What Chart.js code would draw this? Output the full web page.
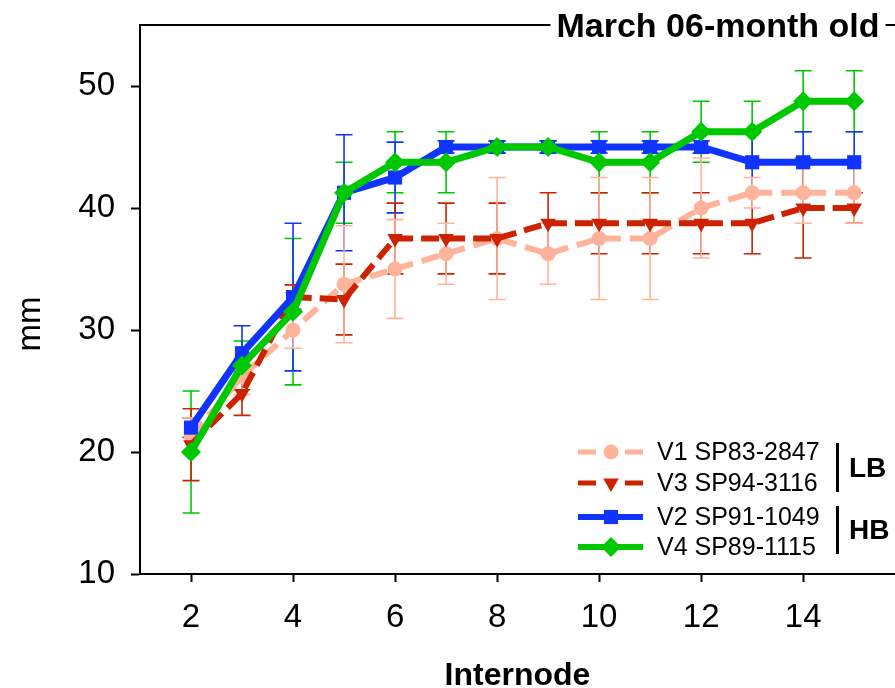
<!DOCTYPE html>
<html>
<head>
<meta charset="utf-8">
<title>Internode diameter - March 06-month old</title>
<script src="https://cdn.jsdelivr.net/npm/chart.js@4.4.1/dist/chart.umd.min.js"></script>
<style>
  body { margin: 0; background: #fff; }
  #wrap { width: 895px; height: 688px; }
</style>
</head>
<body>
<div id="wrap"><canvas id="line-chart" width="895" height="688"></canvas></div>
<script>
// Data
// ------------------------------
var internodes = [2, 3, 4, 5, 6, 7, 8, 9, 10, 11, 12, 13, 14, 15];
var xTicks = [2, 4, 6, 8, 10, 12, 14];
var yTicks = [10, 20, 30, 40, 50];

var labels = ["V1 SP83-2847", "V3 SP94-3116", "V2 SP91-1049", "V4 SP89-1115"];

var v1Data = [21.3, 26.2, 30.0, 33.75, 35.0, 36.25, 37.5, 36.25, 37.5, 37.5, 40.0, 41.25, 41.25, 41.25];
var v1Err  = [1.5, 1.5, 1.5, 4.8, 4.05, 2.5, 5.0, 2.5, 5.0, 5.0, 4.1, 1.25, 2.5, 2.5];

var v3Data = [20.6, 24.8, 32.7, 32.5, 37.5, 37.5, 37.5, 38.75, 38.75, 38.75, 38.75, 38.75, 40.0, 40.0];
var v3Err  = [2.95, 1.8, 1.0, 2.9, 2.9, 2.9, 2.9, 2.5, 2.5, 2.5, 2.5, 2.5, 4.1, 1.25];

var v2Data = [22.0, 28.1, 32.7, 41.25, 42.5, 45.0, 45.0, 45.0, 45.0, 45.0, 45.0, 43.75, 43.75, 43.75];
var v2Err  = [0.8, 2.25, 6.05, 4.75, 2.9, 0.5, 0.5, 0.5, 0.5, 0.5, 0.5, 2.5, 2.5, 2.5];

var v4Data = [20.0, 27.1, 31.5, 41.25, 43.75, 43.75, 45.0, 45.0, 43.75, 43.75, 46.25, 46.25, 48.75, 48.75];
var v4Err  = [5.0, 2.0, 6.0, 2.5, 2.5, 2.5, 0.5, 0.5, 2.5, 2.5, 2.5, 2.5, 2.5, 2.5];

var FONT = "'Liberation Sans', Arial, Helvetica, sans-serif";

function pts(values) {
    var out = [];
    for (var i = 0; i < internodes.length; i++) {
        out.push({ x: internodes[i], y: values[i] });
    }
    return out;
}

// no extra room for the edge tick labels, the frame fills the canvas
function noPadding(scale) {
    scale.paddingTop = 0;
    scale.paddingBottom = 0;
    scale.paddingLeft = 0;
    scale.paddingRight = 0;
}

// Error bars, drawn under the lines
var errorBars = {
    id: 'errorBars',
    beforeDatasetsDraw: function(chart) {
        var ctx = chart.ctx;
        var xs = chart.scales.x, ys = chart.scales.y;
        var area = chart.chartArea;
        ctx.save();
        ctx.beginPath();
        ctx.rect(area.left, area.top, area.right - area.left, area.bottom - area.top);
        ctx.clip();
        // peach first, green last
        for (var k = chart.data.datasets.length - 1; k >= 0; k--) {
            var ds = chart.data.datasets[k];
            ctx.strokeStyle = ds.errColor;
            ctx.lineWidth = 1.6;
            for (var j = 0; j < ds.data.length; j++) {
                var e = ds.errors[j];
                var px = xs.getPixelForValue(ds.data[j].x);
                var top = ys.getPixelForValue(ds.data[j].y + e);
                var bot = ys.getPixelForValue(ds.data[j].y - e);
                ctx.beginPath();
                ctx.moveTo(px, top); ctx.lineTo(px, bot);
                ctx.moveTo(px - 8.5, top); ctx.lineTo(px + 8.5, top);
                ctx.moveTo(px - 8.5, bot); ctx.lineTo(px + 8.5, bot);
                ctx.stroke();
            }
        }
        ctx.restore();
    }
};

// Top frame line with the panel title sitting on it, plus the "mm" axis title
var frameTitle = {
    id: 'frameTitle',
    afterDraw: function(chart) {
        var ctx = chart.ctx;
        var area = chart.chartArea;
        ctx.save();
        ctx.strokeStyle = '#000';
        ctx.lineWidth = 2;
        ctx.beginPath();
        ctx.moveTo(area.left, area.top);
        ctx.lineTo(chart.width, area.top);
        ctx.stroke();

        var text = "March 06-month old";
        ctx.font = "bold 34px " + FONT;
        var w = ctx.measureText(text).width;
        var cx = 718;
        ctx.fillStyle = '#fff';
        ctx.fillRect(cx - w / 2 - 6, area.top - 20, w + 12, 36);
        ctx.fillStyle = '#000';
        ctx.textAlign = 'center';
        ctx.textBaseline = 'alphabetic';
        ctx.fillText(text, cx, 37);

        // y title sits a bit below the middle of the axis in the original
        ctx.translate(31, 324);
        ctx.rotate(-Math.PI / 2);
        ctx.font = "33px " + FONT;
        ctx.textBaseline = 'middle';
        ctx.fillText("mm", 0, 0);
        ctx.restore();
    }
};

// Legend with LB / HB brackets
var bracketLegend = {
    id: 'bracketLegend',
    afterDraw: function(chart) {
        var ctx = chart.ctx;
        var rows = [452, 483, 517, 547];
        ctx.save();
        for (var i = 0; i < chart.data.datasets.length; i++) {
            var ds = chart.data.datasets[i];
            var y = rows[i];
            ctx.strokeStyle = ds.borderColor;
            ctx.lineWidth = ds.borderDash ? 5 : 6;
            ctx.setLineDash([]);
            ctx.beginPath();
            if (ds.borderDash) {
                ctx.moveTo(578, y); ctx.lineTo(596, y);
                ctx.moveTo(625, y); ctx.lineTo(643, y);
            } else {
                ctx.moveTo(578, y); ctx.lineTo(643, y);
            }
            ctx.stroke();
            ctx.fillStyle = ds.pointBackgroundColor;
            ctx.strokeStyle = ds.pointBorderColor;
            Chart.helpers.drawPoint(ctx, {
                pointStyle: ds.pointStyle,
                radius: ds.pointRadius,
                rotation: ds.pointRotation || 0,
                borderWidth: 0
            }, 611, y);

            ctx.fillStyle = '#000';
            ctx.font = "25px " + FONT;
            ctx.textAlign = 'left';
            ctx.textBaseline = 'middle';
            ctx.fillText(labels[i], 657, y + 1);
        }
        ctx.fillStyle = '#000';
        ctx.fillRect(836, 443, 3, 49);
        ctx.fillRect(836, 506, 3, 48);
        ctx.font = "bold 28px " + FONT;
        ctx.textBaseline = 'middle';
        ctx.fillText("LB", 849, 469);
        ctx.fillText("HB", 849, 531);
        ctx.restore();
    }
};

var ctx = document.getElementById("line-chart");

// Chart Data
var chartData = {
    datasets: [{
        label: labels[0],
        data: pts(v1Data),
        errors: v1Err,
        errColor: "#FFB49C",
        order: 4,
        borderColor: "#FFB39A",
        borderWidth: 6,
        borderDash: [18, 9],
        pointStyle: 'circle',
        pointRadius: 7.5,
        pointBackgroundColor: "#FFB39A",
        pointBorderColor: "#FFB39A",
        pointBorderWidth: 0,
        fill: false
    }, {
        label: labels[1],
        data: pts(v3Data),
        errors: v3Err,
        errColor: "#CC2200",
        order: 3,
        borderColor: "#CC2200",
        borderWidth: 6,
        borderDash: [18, 8],
        pointStyle: 'triangle',
        pointRotation: 180,
        pointRadius: 9,
        pointBackgroundColor: "#CC2200",
        pointBorderColor: "#CC2200",
        pointBorderWidth: 0,
        fill: false
    }, {
        label: labels[2],
        data: pts(v2Data),
        errors: v2Err,
        errColor: "#1034FF",
        order: 2,
        borderColor: "#1034FF",
        borderWidth: 7,
        pointStyle: 'rect',
        pointRadius: 10,
        pointBackgroundColor: "#1034FF",
        pointBorderColor: "#1034FF",
        pointBorderWidth: 0,
        fill: false
    }, {
        label: labels[3],
        data: pts(v4Data),
        errors: v4Err,
        errColor: "#00C800",
        order: 1,
        borderColor: "#00C800",
        borderWidth: 7,
        pointStyle: 'rectRot',
        pointRadius: 10,
        pointBackgroundColor: "#00C800",
        pointBorderColor: "#00C800",
        pointBorderWidth: 0,
        fill: false
    }]
};

var config = {
    type: 'line',
    data: chartData,
    plugins: [errorBars, frameTitle, bracketLegend],
    options: {
        responsive: false,
        animation: false,
        devicePixelRatio: 1,
        layout: { autoPadding: false, padding: { top: 25, right: 0, bottom: 0, left: 0 } },
        elements: { line: { tension: 0 } },
        plugins: {
            legend: { display: false },
            title: { display: false },
            tooltip: { enabled: false }
        },
        scales: {
            x: {
                type: 'linear',
                min: 1,
                max: 15.8,
                afterBuildTicks: function(scale) {
                    scale.ticks = xTicks.map(function(v) { return { value: v }; });
                },
                afterFit: function(scale) { scale.height = 114; noPadding(scale); },
                grid: { drawOnChartArea: false, tickLength: 8, tickWidth: 2, color: '#000' },
                border: { display: true, color: '#000', width: 2 },
                ticks: { color: '#000', padding: 16, maxRotation: 0, font: { family: FONT, size: 33 } },
                title: {
                    display: true,
                    text: 'Internode',
                    color: '#000',
                    padding: { top: 0, bottom: -4 },
                    font: { family: FONT, size: 32, weight: 'bold', lineHeight: 1 }
                }
            },
            y: {
                min: 10,
                max: 55,
                afterBuildTicks: function(scale) {
                    scale.ticks = yTicks.map(function(v) { return { value: v }; });
                },
                afterFit: function(scale) { scale.width = 140; noPadding(scale); },
                grid: { drawOnChartArea: false, tickLength: 9, tickWidth: 2, color: '#000' },
                border: { display: true, color: '#000', width: 2 },
                ticks: { color: '#000', padding: 16, font: { family: FONT, size: 33 } },
                title: { display: false }
            }
        }
    }
};

// Create the chart
var lineChart = new Chart(ctx, config);
</script>
</body>
</html>
